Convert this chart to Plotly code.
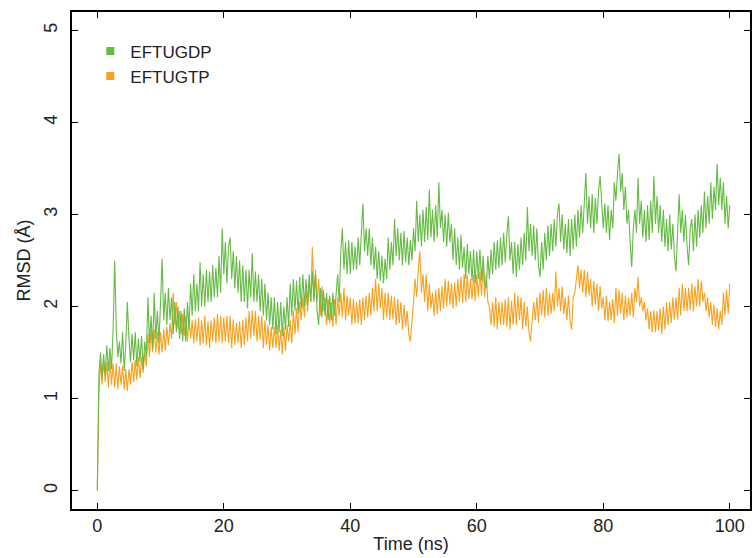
import numpy as np
import plotly.graph_objects as go

# time grid (ns), one point every 0.25 ns
time_ns = np.arange(0, 100.25, 0.25)

# RMSD (A), EF-Tu with GDP (4 values per ns)
rmsd_gdp = [
    0.00, 1.25, 1.50, 1.22,  1.48, 1.25, 1.58, 1.30,  1.55, 1.32, 1.75, 2.50,
    1.75, 1.45, 1.62, 1.38,  1.72, 1.30, 1.58, 2.05,  1.65, 1.40, 1.70, 1.42,
    1.72, 1.35, 1.65, 1.40,  1.68, 1.32, 1.62, 1.45,  2.10, 1.60, 1.90, 1.55,
    2.15, 1.65, 1.95, 1.60,  2.05, 2.52, 1.85, 2.15,  1.80, 2.20, 1.85, 2.10,
    1.70, 2.05, 1.72, 2.00,  1.65, 1.95, 1.62, 1.98,  1.62, 2.05, 1.75, 2.25,
    1.90, 2.35, 1.95, 2.25,  1.95, 2.48, 2.00, 2.35,  2.00, 2.40, 2.05, 2.38,
    2.05, 2.45, 2.10, 2.42,  2.10, 2.55, 2.15, 2.85,  2.35, 2.70, 2.25, 2.65,
    2.75, 2.30, 2.60, 2.20,  2.55, 2.15, 2.50, 2.05,  2.45, 2.05, 2.40, 1.98,
    2.40, 2.10, 2.58, 2.05,  2.38, 2.05, 2.35, 1.95,  2.30, 1.90, 2.25, 1.85,
    2.15, 1.80, 2.10, 1.75,  2.10, 1.70, 2.05, 1.72,  2.05, 1.68, 2.00, 1.75,
    2.10, 1.78, 2.25, 1.90,  2.30, 1.95, 2.28, 1.92,  2.32, 1.98, 2.35, 2.00,
    2.30, 2.02, 2.35, 2.05,  2.38, 2.05, 2.35, 1.95,  1.80, 2.20, 1.88, 2.18,
    1.90, 2.15, 1.85, 2.12,  1.85, 2.15, 1.90, 2.10,  2.35, 2.05, 2.60, 2.85,
    2.40, 2.70, 2.35, 2.72,  2.35, 2.70, 2.40, 2.65,  2.40, 2.75, 2.45, 2.80,
    3.12, 2.60, 2.85, 2.55,  2.85, 2.45, 2.75, 2.40,  2.65, 2.30, 2.60, 2.28,
    2.55, 2.25, 2.52, 2.30,  2.75, 2.40, 2.70, 2.45,  2.95, 2.55, 2.85, 2.50,
    2.80, 2.45, 2.82, 2.48,  2.75, 2.45, 2.72, 2.50,  2.85, 2.60, 3.15, 2.70,
    3.00, 2.65, 3.05, 2.70,  3.08, 2.72, 3.27, 2.75,  3.05, 2.70, 3.10, 2.75,
    3.35, 2.85, 3.05, 2.70,  3.00, 2.65, 3.02, 2.70,  2.90, 2.50, 2.85, 2.45,
    2.75, 2.40, 2.78, 2.42,  2.65, 2.30, 2.68, 2.35,  2.60, 2.28, 2.62, 2.25,
    2.60, 2.30, 2.62, 2.28,  2.55, 2.25, 2.20, 2.55,  2.30, 2.62, 2.35, 2.70,
    2.40, 2.72, 2.42, 2.75,  2.45, 2.80, 2.48, 2.78,  2.98, 2.50, 2.70, 2.35,
    2.70, 2.32, 2.68, 2.40,  2.75, 2.45, 2.80, 2.50,  3.08, 2.60, 2.90, 2.55,
    2.88, 2.50, 2.85, 2.45,  2.32, 2.70, 2.40, 2.80,  2.50, 2.88, 2.55, 2.90,
    2.60, 2.95, 2.65, 3.00,  3.12, 2.70, 3.00, 2.62,  2.90, 2.58, 2.95, 2.55,
    2.95, 2.62, 3.00, 2.65,  3.05, 2.75, 3.10, 2.80,  3.20, 3.45, 2.90, 3.20,
    2.85, 3.22, 2.80, 3.18,  2.90, 3.25, 3.42, 3.05,  2.85, 3.12, 2.80, 3.10,
    2.72, 3.05, 2.85, 3.35,  3.15, 3.45, 3.66, 3.25,  3.45, 3.05, 3.30, 2.90,
    3.05, 2.70, 2.43, 2.85,  3.05, 2.80, 3.40, 2.90,  3.15, 2.75, 3.05, 2.70,
    3.10, 2.72, 3.15, 2.80,  3.42, 2.90, 3.20, 2.80,  3.10, 2.70, 3.05, 2.65,
    2.95, 2.60, 3.00, 2.62,  2.90, 2.55, 2.38, 2.80,  3.22, 2.80, 3.05, 2.70,
    3.00, 2.65, 2.45, 2.85,  2.95, 2.60, 3.00, 2.65,  3.05, 2.75, 3.10, 2.80,
    3.25, 2.85, 3.20, 2.90,  3.35, 2.95, 3.30, 3.05,  3.55, 3.10, 3.40, 3.05,
    3.35, 2.90, 3.20, 2.85,  3.10,
]

# RMSD (A), EF-Tu with GTP (4 values per ns)
rmsd_gtp = [
    0.00, 1.05, 1.40, 1.15,  1.42, 1.18, 1.40, 1.12,  1.42, 1.15, 1.38, 1.12,
    1.38, 1.10, 1.35, 1.15,  1.35, 1.10, 1.32, 1.08,  1.32, 1.15, 1.40, 1.18,
    1.42, 1.20, 1.45, 1.22,  1.45, 1.28, 1.50, 1.35,  1.70, 1.45, 1.75, 1.50,
    1.75, 1.50, 1.72, 1.48,  1.72, 1.50, 1.75, 1.52,  1.78, 1.58, 1.82, 1.65,
    2.15, 1.80, 2.05, 1.75,  1.95, 1.70, 1.92, 1.68,  1.90, 1.62, 1.88, 1.65,
    1.85, 1.60, 1.86, 1.62,  1.88, 1.58, 1.85, 1.60,  1.90, 1.58, 1.84, 1.55,
    1.85, 1.62, 1.88, 1.60,  1.92, 1.62, 1.90, 1.60,  1.88, 1.62, 1.90, 1.60,
    1.90, 1.55, 1.86, 1.58,  1.82, 1.60, 1.84, 1.55,  1.85, 1.58, 1.88, 1.62,
    1.95, 1.65, 1.96, 1.68,  1.95, 1.62, 1.90, 1.64,  1.90, 1.55, 1.85, 1.58,
    1.80, 1.52, 1.78, 1.55,  1.78, 1.55, 1.80, 1.52,  1.75, 1.48, 1.78, 1.52,
    1.80, 1.62, 1.85, 1.60,  1.95, 1.70, 1.98, 1.72,  2.05, 1.85, 2.10, 1.88,
    2.20, 1.95, 2.25, 2.05,  2.65, 2.10, 2.40, 2.05,  2.30, 1.90, 2.22, 1.95,
    2.10, 1.80, 2.08, 1.82,  2.05, 1.78, 2.08, 1.80,  2.10, 1.90, 2.15, 1.88,
    2.20, 1.85, 2.12, 1.90,  2.10, 1.80, 2.08, 1.82,  2.05, 1.82, 2.08, 1.80,
    2.10, 1.85, 2.12, 1.88,  2.15, 1.90, 2.20, 1.95,  2.30, 1.95, 2.25, 1.98,
    2.20, 1.85, 2.15, 1.88,  2.15, 1.85, 2.12, 1.86,  2.10, 1.80, 2.08, 1.82,
    2.05, 1.75, 2.02, 1.78,  1.95, 1.70, 1.62, 1.90,  2.05, 2.30, 2.10, 2.40,
    2.60, 2.15, 2.35, 2.05,  2.35, 1.95, 2.25, 1.98,  2.15, 1.90, 2.18, 1.92,
    2.20, 1.95, 2.22, 1.98,  2.30, 2.00, 2.28, 2.02,  2.25, 1.98, 2.26, 2.00,
    2.30, 2.05, 2.32, 2.04,  2.35, 2.05, 2.34, 2.08,  2.30, 2.08, 2.35, 2.06,
    2.35, 2.10, 2.38, 2.12,  2.47, 2.10, 2.35, 2.05,  2.00, 1.80, 2.05, 1.78,
    2.10, 1.75, 2.05, 1.80,  2.05, 1.80, 2.08, 1.78,  2.10, 1.75, 2.06, 1.80,
    2.15, 1.80, 2.12, 1.85,  2.10, 1.75, 2.05, 1.78,  2.00, 1.72, 1.62, 1.85,
    2.05, 1.85, 2.10, 1.82,  2.15, 1.90, 2.18, 1.88,  2.20, 1.90, 2.15, 1.92,
    2.15, 1.95, 2.38, 2.00,  2.20, 1.95, 2.22, 1.92,  2.10, 1.85, 2.12, 1.84,
    1.75, 2.10, 2.15, 2.30,  2.45, 2.20, 2.40, 2.15,  2.40, 2.10, 2.38, 2.12,
    2.30, 2.00, 2.28, 2.02,  2.25, 1.95, 2.22, 1.98,  2.10, 1.85, 2.12, 1.84,
    2.05, 1.85, 2.08, 1.82,  2.20, 1.90, 2.18, 1.92,  2.15, 1.85, 2.12, 1.88,
    2.10, 1.90, 2.15, 1.88,  2.20, 2.05, 2.32, 2.00,  2.10, 1.95, 2.05, 1.85,
    1.98, 1.75, 1.95, 1.72,  1.96, 1.72, 1.95, 1.74,  1.98, 1.70, 2.00, 1.75,
    2.05, 1.80, 2.05, 1.82,  2.10, 1.85, 2.10, 1.86,  2.20, 1.90, 2.25, 1.95,
    2.20, 1.95, 2.20, 1.96,  2.25, 1.95, 2.22, 2.00,  2.30, 2.00, 2.28, 2.05,
    2.15, 1.95, 2.10, 1.88,  2.05, 1.80, 2.02, 1.78,  1.98, 1.75, 1.95, 1.80,
    2.15, 1.90, 2.18, 1.92,  2.25,
]

series_names = ["EFTUGDP", "EFTUGTP"]
series_colors = ["#66bb44", "#f8a11f"]

fig = go.Figure()

# GTP drawn first so the GDP line sits on top (as in the original)
fig.add_trace(go.Scatter(x=time_ns, y=rmsd_gtp, mode="lines",
                         line=dict(color=series_colors[1], width=1.1),
                         showlegend=False))
fig.add_trace(go.Scatter(x=time_ns, y=rmsd_gdp, mode="lines",
                         line=dict(color=series_colors[0], width=1.1),
                         showlegend=False))

# square legend keys
for name, col in zip(series_names, series_colors):
    fig.add_trace(go.Scatter(x=[None], y=[None], mode="markers", name=name,
                             marker=dict(symbol="square", size=8, color=col)))

axis_style = dict(showline=True, linecolor="black", linewidth=1.5, mirror="ticks",
                  ticks="inside", ticklen=6, tickwidth=1, tickcolor="black",
                  showgrid=False, zeroline=False,
                  tickfont=dict(size=18, color="#222"),
                  title_font=dict(size=18, color="#222"))

fig.update_xaxes(range=[-4, 103.2], tickvals=[0, 20, 40, 60, 80, 100],
                 title_text="Time (ns)", title_standoff=2, **axis_style)
fig.update_yaxes(range=[-0.2, 5.2], tickvals=[0, 1, 2, 3, 4, 5], tickangle=-90,
                 ticklabelstandoff=6,
                 title_text="RMSD (Å)", title_standoff=6, **axis_style)

fig.update_layout(
    width=756, height=558,
    margin=dict(l=72, r=4, t=12, b=49),
    paper_bgcolor="white", plot_bgcolor="white",
    font=dict(family="Liberation Sans, Arial, sans-serif", color="#222"),
    legend=dict(x=0.027, y=0.957, xanchor="left", yanchor="top",
                font=dict(size=17), bgcolor="rgba(0,0,0,0)",
                itemwidth=30, tracegroupgap=0),
)

fig.write_html("out.html", config={"displayModeBar": False},
               post_script="document.body.style.margin='0px';")
